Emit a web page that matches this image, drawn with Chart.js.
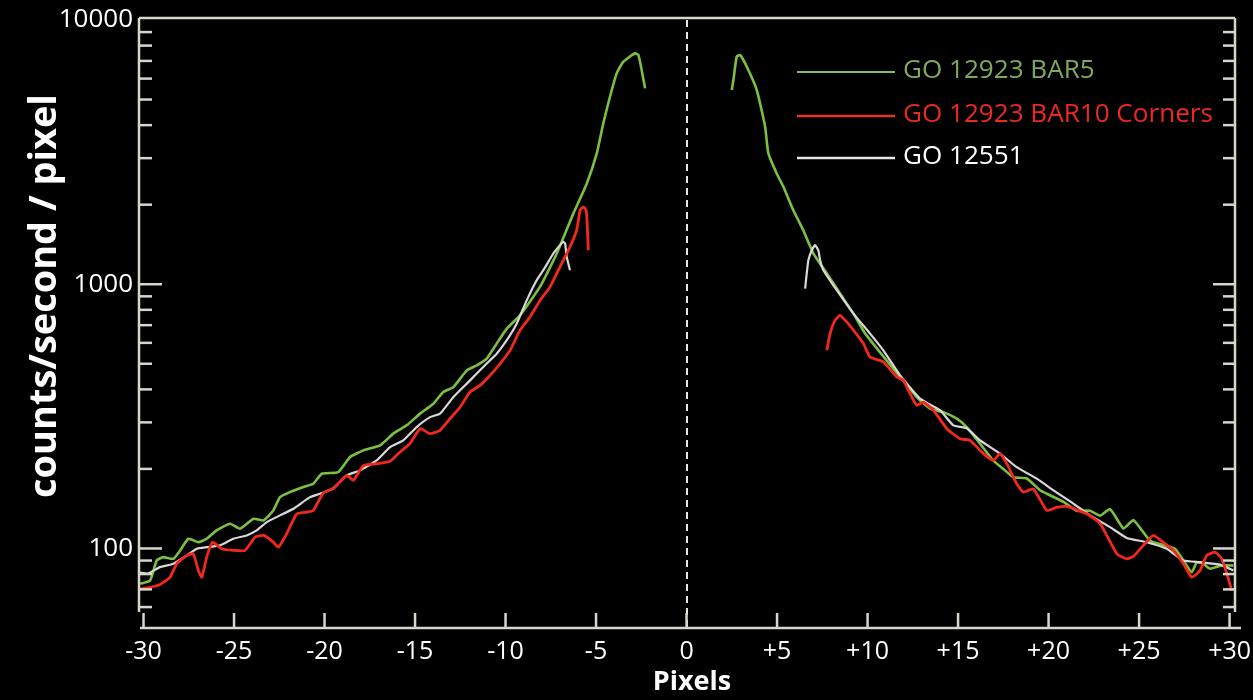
<!DOCTYPE html>
<html><head><meta charset="utf-8">
<script src="https://cdn.jsdelivr.net/npm/chart.js@4.4.1/dist/chart.umd.min.js"></script>
<style>html,body{margin:0;padding:0;background:#000;overflow:hidden}#wrap{width:1253px;height:700px;position:relative;background:#000}</style>
</head><body><div id="wrap"><canvas id="c" width="1253" height="700"></canvas></div>
<script>
// ---- data ----
const seriesLabels = ['GO 12923 BAR5', 'GO 12923 BAR10 Corners', 'GO 12551'];

const greenLeftX = [-30.19,-29.64,-29.27,-28.91,-28.35,-27.98,-27.52,-26.97,-26.51,-25.96,-25.22,-24.67,-23.93,-23.38,-22.83,-22.46,-21.91,-21.17,-20.62,-20.15,-19.24,-18.59,-17.86,-16.93,-16.20,-15.46,-14.72,-13.99,-13.44,-12.88,-12.14,-11.59,-11.04,-10.49,-9.93,-9.20,-8.10,-7.17,-6.25,-5.51,-4.96,-4.60,-4.23,-3.86,-3.49,-2.85,-2.66,-2.48,-2.29];
const greenLeftY = [73.5,75.6,90.1,92.7,91.4,98.3,108.8,105.6,108.8,117,124.1,118.8,129.6,127.6,139.3,156.4,163.4,170.7,175.8,191.8,194.5,221.8,235,245.5,272,292.4,323.8,353,391,408,472,493,523,596,679,763,977,1307,1854,2407,3126,4062,5124,6280,6950,7480,7370,6470,5510];
const greenRightX = [2.50,2.59,2.77,2.96,3.33,3.88,4.34,4.52,4.98,5.35,5.90,6.45,7.01,7.75,8.48,9.22,9.86,10.69,11.80,12.72,13.45,14.19,14.93,15.48,16.22,16.95,17.50,18.06,18.80,19.53,20.08,20.82,21.56,22.29,22.85,23.40,24.14,24.69,25.61,26.35,26.99,27.45,27.91,28.19,28.55,28.92,29.57,30.21];
const greenRightY = [5430,5930,7265,7370,6650,5430,3948,3127,2626,2337,1906,1601,1306,1098,922,774,652,552,446,374,338,328,310,288,249,215,200,186,184,166,159,150,139,139,133,141,119,128,107,103,99.7,90,81.3,88.7,87.5,83.8,86.2,86.2];

const redLeftX = [-30.19,-29.64,-29.09,-28.54,-28.17,-27.61,-27.25,-26.97,-26.78,-26.51,-26.19,-25.68,-25.04,-24.39,-23.84,-23.34,-22.83,-22.55,-22.09,-21.54,-20.98,-20.62,-20.07,-19.51,-18.77,-18.41,-17.86,-17.12,-16.38,-15.83,-15.28,-14.72,-14.17,-13.62,-13.07,-12.51,-11.96,-11.41,-10.86,-10.30,-9.75,-9.20,-8.65,-8.09,-7.54,-6.99,-6.44,-6.07,-5.88,-5.70,-5.55,-5.48,-5.43];
const redLeftY = [70.3,71.3,73.1,77.8,87.5,94.1,95.5,82.5,77.8,92.7,105.6,99.7,98.3,98.3,110.4,112,105.6,101.1,113.7,135,137.3,139.3,162.2,168.3,189,181,206,209,213.6,231.9,249.3,284,272,280,309.6,342.8,390.8,414,451.5,501,562,670,752,869,977,1163,1383,1601,1906,1963,1906,1648,1345];
const redRightX = [7.75,7.93,8.20,8.48,8.85,9.22,9.77,10.14,10.87,11.61,11.98,12.35,12.72,13.08,13.64,14.38,15.11,15.66,16.40,16.95,17.32,17.69,18.24,18.61,19.16,19.90,20.45,21.01,22.11,22.85,23.77,24.32,24.69,25.24,25.79,26.34,26.90,27.45,27.91,28.37,28.74,29.20,29.57,29.85,30.12];
const redRightY = [562,650,730,763,720,670,596,530,508,446,433,385,348,358,333,284,260,256.5,228.5,215.5,228.5,209.4,175.8,163.4,168.2,139.3,143,144.2,135.2,124.1,95.5,91.4,93.3,102.7,112,105.4,98.3,87.5,77.8,82.5,94.1,96.8,91.4,80.2,69.3];

const whiteLeftX = [-30.19,-29.75,-29.09,-28.35,-27.61,-27.06,-26.51,-25.77,-25.04,-24.30,-23.75,-23.19,-22.46,-21.72,-20.80,-20.25,-19.53,-18.77,-18.04,-17.12,-16.38,-15.65,-14.91,-14.17,-13.62,-12.88,-12.14,-11.59,-11.04,-10.49,-9.93,-9.38,-8.83,-8.28,-7.91,-7.36,-6.99,-6.81,-6.71,-6.62,-6.44];
const whiteLeftY = [81.1,80.4,85.0,87.5,94.1,99.7,101.1,102.7,108.8,112,117,125.8,133.4,141.3,156.4,161,168.8,189,197.5,215.5,242,256.5,288,314,323.6,374,420.5,459,501,546,614,710,869,1035,1130,1307,1406,1447,1427,1269,1130];
const whiteRightX = [6.55,6.64,6.73,6.92,7.10,7.28,7.38,7.56,8.30,9.22,10.14,10.87,11.80,12.90,14.01,14.74,15.48,16.22,17.32,18.24,19.35,20.27,21.19,22.29,23.40,24.32,25.43,26.53,27.45,28.37,29.48,30.21];
const whiteRightY = [963,1098,1233,1345,1406,1345,1233,1130,949,774,650,562,452,369,333,292.5,285,256.5,228.5,203,183.7,166,150.7,133.4,120.4,109.6,105.6,99.7,90,88.7,86.9,82.6];

const xTickValues = [-30,-25,-20,-15,-10,-5,0,5,10,15,20,25,30];
const xTickLabels = ['-30','-25','-20','-15','-10','-5','0','+5','+10','+15','+20','+25','+30'];
const yTickValues = [100,1000,10000];
const yTickLabels = ['100','1000','10000'];
const xTitle = 'Pixels';
const yTitle = 'counts/second / pixel';

// ---- build library data ----
function seg(lx, ly, rx, ry) {
  const out = lx.map((x, i) => ({x: x, y: ly[i]}));
  out.push({x: 0, y: null});
  rx.forEach((x, i) => out.push({x: x, y: ry[i]}));
  return out;
}

const FONT = "'Open Sans', 'DejaVu Sans', sans-serif";
const lineColors = ['#7cc040', '#f2281c', '#d8d8d8'];
const legendLineColors = ['#8dbb68', '#e0362a', '#e6e6e6'];
const legendTextColors = ['#80a95c', '#ec2a1c', '#ffffff'];

const decor = {
  id: 'decor',
  afterDatasetsDraw(chart) {
    const {ctx, chartArea: a, scales: {x, y}} = chart;
    ctx.save();
    const x0 = Math.round(x.getPixelForValue(0));
    ctx.strokeStyle = '#e6e6e6'; ctx.lineWidth = 2; ctx.setLineDash([7, 5]);
    ctx.beginPath(); ctx.moveTo(x0, a.top + 2); ctx.lineTo(x0, a.bottom); ctx.stroke();
    ctx.setLineDash([]);
    ctx.strokeStyle = '#d6d6cc'; ctx.lineWidth = 2.5; ctx.lineCap = 'butt';
    const ln = (x1, y1, x2, y2) => { ctx.beginPath(); ctx.moveTo(x1, y1); ctx.lineTo(x2, y2); ctx.stroke(); };
    const yEnd = a.bottom - 16;
    ln(a.left, a.top, a.left, yEnd);
    ln(a.right, a.top, a.right, yEnd);
    ln(a.left, a.top, a.right, a.top);
    ln(a.left + 1, a.bottom, a.right + 6, a.bottom);
    xTickValues.forEach(v => { const px = x.getPixelForValue(v); ln(px, a.bottom, px, a.bottom - 15); });
    [10, 100, 1000, 10000].forEach(dec => {
      for (let m = 1; m <= 9; m++) {
        const v = m * dec;
        if (v < y.min || v > y.max) continue;
        const py = y.getPixelForValue(v);
        if (py > yEnd || py < a.top + 2) continue;
        const major = m === 1;
        ln(a.left, py, a.left + (major ? 23 : 13), py);
        ln(a.right, py, a.right - (major ? 22 : 12), py);
      }
    });
    ctx.restore();
  },
  afterDraw(chart) {
    const {ctx} = chart;
    ctx.save();
    ctx.font = `400 26px ${FONT}`;
    let w = ctx.measureText(seriesLabels[1]).width;
    const lsize = 26 * 310 / w;
    ctx.font = `400 ${lsize.toFixed(2)}px ${FONT}`;
    ctx.textBaseline = 'middle'; ctx.textAlign = 'left';
    const ly = [72, 116, 158];
    const widths = [2, 2.5, 2.5];
    seriesLabels.forEach((lab, i) => {
      ctx.strokeStyle = legendLineColors[i]; ctx.lineWidth = widths[i];
      ctx.beginPath(); ctx.moveTo(797, ly[i]); ctx.lineTo(895, ly[i]); ctx.stroke();
      ctx.fillStyle = legendTextColors[i];
      ctx.fillText(lab, 903, ly[i] - 1);
    });
    ctx.font = `700 36px ${FONT}`;
    w = ctx.measureText(yTitle).width;
    const ysize = 36 * 404 / w;
    ctx.font = `700 ${ysize.toFixed(2)}px ${FONT}`;
    ctx.fillStyle = '#ffffff';
    ctx.translate(45, 296);
    ctx.rotate(-Math.PI / 2);
    ctx.textAlign = 'center'; ctx.textBaseline = 'middle';
    ctx.fillText(yTitle, 0, 0);
    ctx.restore();
    ctx.save();
    ctx.font = `700 27px ${FONT}`;
    ctx.fillStyle = '#ffffff'; ctx.textAlign = 'center'; ctx.textBaseline = 'middle';
    ctx.fillText(xTitle, 692, 682);
    ctx.restore();
  }
};

const bg = {
  id: 'bg',
  beforeDraw(chart) {
    const {ctx, width, height} = chart;
    ctx.save(); ctx.fillStyle = '#000'; ctx.fillRect(0, 0, width, height); ctx.restore();
  }
};

new Chart(document.getElementById('c'), {
  type: 'line',
  data: {
    datasets: [
      {label: seriesLabels[1], data: seg(redLeftX, redLeftY, redRightX, redRightY), borderColor: lineColors[1], borderWidth: 2.8, order: 0},
      {label: seriesLabels[2], data: seg(whiteLeftX, whiteLeftY, whiteRightX, whiteRightY), borderColor: lineColors[2], borderWidth: 2.2, order: 1},
      {label: seriesLabels[0], data: seg(greenLeftX, greenLeftY, greenRightX, greenRightY), borderColor: lineColors[0], borderWidth: 2.6, order: 2}
    ].map(d => Object.assign(d, {pointRadius: 0, tension: 0.15, spanGaps: false, fill: false}))
  },
  options: {
    responsive: false, animation: false, devicePixelRatio: 1,
    layout: {padding: {left: 0, top: 18, right: 18, bottom: 0}},
    plugins: {legend: {display: false}, tooltip: {enabled: false}},
    scales: {
      x: {
        type: 'linear', min: -30.25, max: 30.3,
        grid: {display: false, drawTicks: false}, border: {display: false},
        afterBuildTicks: s => { s.ticks = xTickValues.map(v => ({value: v})); },
        afterFit: s => { s.height = 72; s.paddingLeft = 0; s.paddingRight = 0; },
        ticks: {color: '#ffffff', font: {family: FONT, size: 25}, padding: 9, maxRotation: 0, autoSkip: false,
          callback: v => xTickLabels[xTickValues.indexOf(v)]}
      },
      y: {
        type: 'logarithmic', min: 50, max: 10175,
        grid: {display: false, drawTicks: false}, border: {display: false},
        afterBuildTicks: s => { s.ticks = yTickValues.map(v => ({value: v})); },
        afterFit: s => { s.width = 139; s.paddingTop = 0; s.paddingBottom = 0; },
        ticks: {color: '#ffffff', font: {family: FONT, size: 26}, padding: 6, autoSkip: false,
          callback: v => yTickLabels[yTickValues.indexOf(v)]}
      }
    }
  },
  plugins: [bg, decor]
});
</script>
</body></html>
